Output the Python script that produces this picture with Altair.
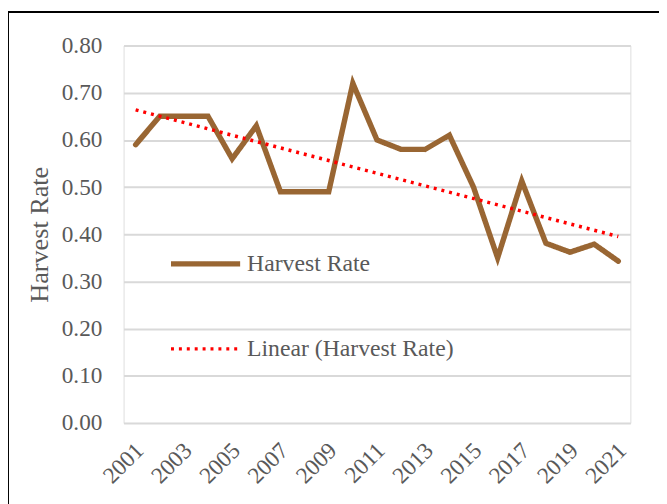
import altair as alt
import pandas as pd

years = list(range(2001, 2022))
harvest_rate = [0.59, 0.65, 0.65, 0.65, 0.56, 0.63, 0.49, 0.49, 0.49, 0.72,
                0.60, 0.58, 0.58, 0.61, 0.50, 0.35, 0.513, 0.381, 0.362, 0.379, 0.343]
series_names = ["Harvest Rate", "Linear (Harvest Rate)"]
series_colors = ["#996633", "#ff0000"]
y_ticks = [0.0, 0.1, 0.2, 0.3, 0.4, 0.5, 0.6, 0.7, 0.8]
x_ticks = list(range(2001, 2022, 2))

df = pd.DataFrame({"year": years, "rate": harvest_rate})

FONT = "Liberation Serif"
GRAY = "#595959"

x_enc = alt.X("year:Q",
              scale=alt.Scale(domain=[2000.5, 2021.5], nice=False, zero=False),
              axis=alt.Axis(values=x_ticks, format="d", title=None, grid=False,
                            domain=False, ticks=False, tickSize=0,
                            labelAngle=-45, labelAlign="right", labelBaseline="middle",
                            labelPadding=24, labelOffset=4, labelOverlap=False,
                            labelFont=FONT, labelFontSize=23.5, labelColor=GRAY))
y_enc = alt.Y("rate:Q",
              scale=alt.Scale(domain=[0, 0.8], nice=False),
              axis=alt.Axis(values=y_ticks, format=".2f", title="Harvest Rate",
                            grid=True, gridColor="#d9d9d9", gridWidth=2,
                            domain=False, ticks=False, tickSize=0,
                            labelPadding=22, labelFont=FONT, labelFontSize=23.5,
                            labelColor=GRAY,
                            titleFont=FONT, titleFontSize=26.5, titleColor=GRAY,
                            titleFontWeight="normal", titleAngle=-90,
                            titleX=-77, titleY=191, titleAlign="center",
                            titleBaseline="alphabetic"))

color_enc = alt.Color("series:N",
                      scale=alt.Scale(domain=series_names, range=series_colors),
                      legend=alt.Legend(title=None, orient="none", legendX=45, legendY=183,
                                        symbolType="stroke", symbolSize=4900,
                                        rowPadding=37, labelOffset=4, padding=0,
                                        labelLimit=0,
                                        labelFont=FONT, labelFontSize=24, labelColor=GRAY,
                                        symbolStrokeWidth=5))
dash_enc = alt.StrokeDash("series:N",
                          scale=alt.Scale(domain=series_names, range=[[1, 0], [3, 5]]),
                          legend=None)
width_enc = alt.StrokeWidth("series:N",
                            scale=alt.Scale(domain=series_names, range=[5.5, 3.5]),
                            legend=None)

line = alt.Chart(df).transform_calculate(series="'Harvest Rate'").mark_line(
    strokeCap="round", strokeJoin="miter"
).encode(x=x_enc, y=y_enc, color=color_enc, strokeDash=dash_enc, strokeWidth=width_enc)

trend = alt.Chart(df).transform_regression("year", "rate").transform_calculate(
    series="'Linear (Harvest Rate)'"
).mark_line(strokeCap="butt").encode(x=x_enc, y=y_enc, color=color_enc,
                                      strokeDash=dash_enc, strokeWidth=width_enc)

frame_df = pd.DataFrame({"k": [0]})
frame = alt.Chart(frame_df).mark_rect(fill=None, stroke="black", strokeWidth=2).encode(
    x=alt.value(-117), x2=alt.value(700), y=alt.value(-34), y2=alt.value(600)
)

chart = alt.layer(line, trend, frame).properties(
    width=513, height=382,
    autosize=alt.AutoSizeParams(type="none"),
    padding={"left": 117, "top": 35, "right": 29, "bottom": 79},
).configure_view(stroke=None).configure(background="white")

chart.save("out.html", embed_options={"renderer": "svg", "actions": False})
